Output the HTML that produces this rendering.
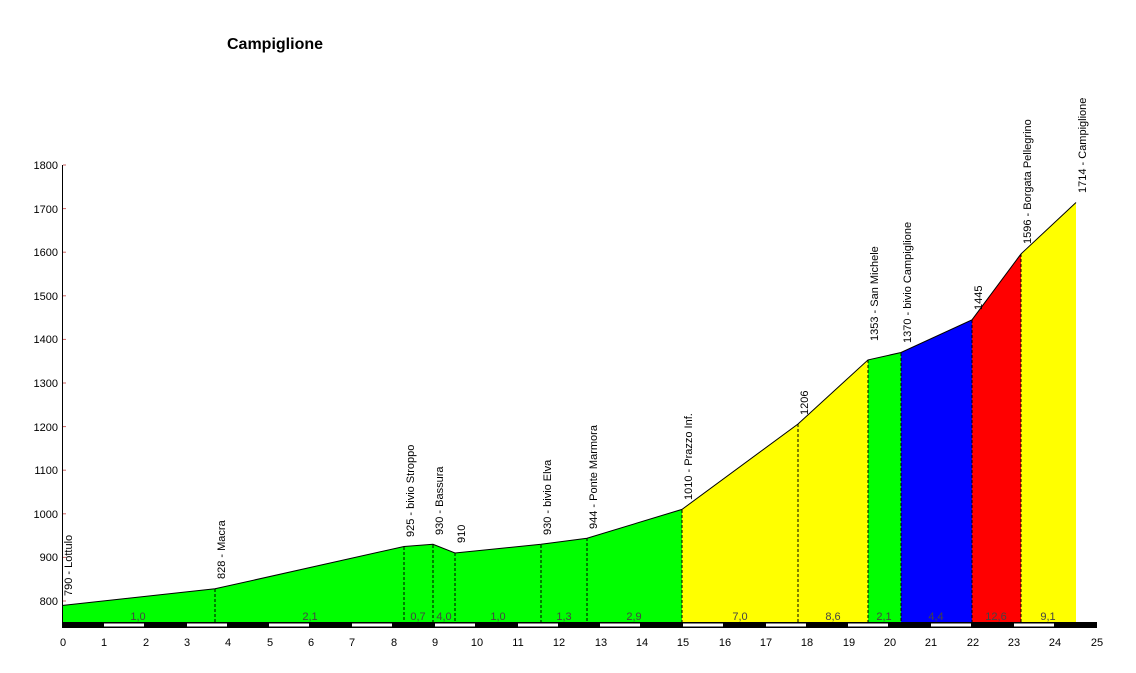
<!DOCTYPE html>
<html><head><meta charset="utf-8"><style>body{margin:0;background:#fff}svg{display:block}text{font-family:"Liberation Sans",sans-serif}</style></head><body>
<svg width="1136" height="673" viewBox="0 0 1136 673" xmlns="http://www.w3.org/2000/svg">
<text x="227" y="49" font-size="16" font-weight="bold">Campiglione</text>
<g stroke="none">
<polygon fill="#00ff00" points="63,623 63,605.4 215,588.8 404,546.5 433,544.3 455,553 541,544.3 587,538.2 682,509.4 682,623"/>
<polygon fill="#ffff00" points="682,623 682,509.4 798,424 868,359.9 868,623"/>
<polygon fill="#00ff00" points="868,623 868,359.9 901,352.5 901,623"/>
<polygon fill="#0000ff" points="901,623 901,352.5 972,319.8 972,623"/>
<polygon fill="#ff0000" points="972,623 972,319.8 1021,253.9 1021,623"/>
<polygon fill="#ffff00" points="1021,623 1021,253.9 1076,202.5 1076,623"/>
</g>
<polyline fill="none" stroke="#000" stroke-width="1" points="63,605.4 215,588.8 404,546.5 433,544.3 455,553 541,544.3 587,538.2 682,509.4 798,424 868,359.9 901,352.5 972,319.8 1021,253.9 1076,202.5"/>
<g stroke="#000" stroke-dasharray="3,2" stroke-width="1">
<line x1="215" y1="589" x2="215" y2="622"/><line x1="404" y1="547" x2="404" y2="622"/><line x1="433" y1="545" x2="433" y2="622"/><line x1="455" y1="553" x2="455" y2="622"/><line x1="541" y1="545" x2="541" y2="622"/><line x1="587" y1="538" x2="587" y2="622"/><line x1="682" y1="510" x2="682" y2="622"/><line x1="798" y1="424" x2="798" y2="622"/><line x1="868" y1="360" x2="868" y2="622"/><line x1="901" y1="353" x2="901" y2="622"/><line x1="972" y1="320" x2="972" y2="622"/><line x1="1021" y1="254" x2="1021" y2="622"/>
</g>
<g font-size="11" fill="#000">
<text transform="translate(72,596) rotate(-90)">790 - Lottulo</text>
<text transform="translate(225,579) rotate(-90)">828 - Macra</text>
<text transform="translate(414,537) rotate(-90)">925 - bivio Stroppo</text>
<text transform="translate(443,535) rotate(-90)">930 - Bassura</text>
<text transform="translate(465,543) rotate(-90)">910</text>
<text transform="translate(551,535) rotate(-90)">930 - bivio Elva</text>
<text transform="translate(597,529) rotate(-90)">944 - Ponte Marmora</text>
<text transform="translate(692,500) rotate(-90)">1010 - Prazzo Inf.</text>
<text transform="translate(808,415) rotate(-90)">1206</text>
<text transform="translate(878,341) rotate(-90)">1353 - San Michele</text>
<text transform="translate(911,343) rotate(-90)">1370 - bivio Campiglione</text>
<text transform="translate(982,310) rotate(-90)">1445</text>
<text transform="translate(1031,244) rotate(-90)">1596 - Borgata Pellegrino</text>
<text transform="translate(1086,193) rotate(-90)">1714 - Campiglione</text>
</g>
<g font-size="11" fill="#444" text-anchor="middle">
<text x="138" y="620">1,0</text><text x="310" y="620">2,1</text><text x="418" y="620">0,7</text><text x="444" y="620">4,0</text><text x="498" y="620">1,0</text><text x="564" y="620">1,3</text><text x="634" y="620">2,9</text><text x="740" y="620">7,0</text><text x="833" y="620">8,6</text><text x="884" y="620">2,1</text><text x="936" y="620">4,4</text><text x="996" y="620">12,6</text><text x="1048" y="620">9,1</text>
</g>
<rect x="62" y="622" width="1035" height="6" fill="#000"/>
<g fill="#fff">
<rect x="104" y="623.5" width="40" height="3"/><rect x="187" y="623.5" width="40" height="3"/><rect x="269" y="623.5" width="40" height="3"/><rect x="352" y="623.5" width="40" height="3"/><rect x="435" y="623.5" width="40" height="3"/><rect x="518" y="623.5" width="40" height="3"/><rect x="600" y="623.5" width="40" height="3"/><rect x="683" y="623.5" width="40" height="3"/><rect x="766" y="623.5" width="40" height="3"/><rect x="848" y="623.5" width="40" height="3"/><rect x="931" y="623.5" width="40" height="3"/><rect x="1014" y="623.5" width="40" height="3"/>
</g>
<line x1="62.5" y1="165" x2="62.5" y2="622" stroke="#000"/>
<g stroke="#c66"><line x1="63" y1="165" x2="66" y2="165"/><line x1="63" y1="208.6" x2="66" y2="208.6"/><line x1="63" y1="252.2" x2="66" y2="252.2"/><line x1="63" y1="295.8" x2="66" y2="295.8"/><line x1="63" y1="339.4" x2="66" y2="339.4"/><line x1="63" y1="383" x2="66" y2="383"/><line x1="63" y1="426.6" x2="66" y2="426.6"/><line x1="63" y1="470.2" x2="66" y2="470.2"/><line x1="63" y1="513.8" x2="66" y2="513.8"/><line x1="63" y1="557.4" x2="66" y2="557.4"/><line x1="63" y1="601" x2="66" y2="601"/></g>
<g font-size="11" text-anchor="end">
<text x="58" y="169">1800</text><text x="58" y="213">1700</text><text x="58" y="256">1600</text><text x="58" y="300">1500</text><text x="58" y="343">1400</text><text x="58" y="387">1300</text><text x="58" y="431">1200</text><text x="58" y="474">1100</text><text x="58" y="518">1000</text><text x="58" y="561">900</text><text x="58" y="605">800</text>
</g>
<g font-size="11" text-anchor="middle">
<text x="63" y="646">0</text><text x="104" y="646">1</text><text x="146" y="646">2</text><text x="187" y="646">3</text><text x="228" y="646">4</text><text x="270" y="646">5</text><text x="311" y="646">6</text><text x="352" y="646">7</text><text x="394" y="646">8</text><text x="435" y="646">9</text><text x="477" y="646">10</text><text x="518" y="646">11</text><text x="559" y="646">12</text><text x="601" y="646">13</text><text x="642" y="646">14</text><text x="683" y="646">15</text><text x="725" y="646">16</text><text x="766" y="646">17</text><text x="807" y="646">18</text><text x="849" y="646">19</text><text x="890" y="646">20</text><text x="931" y="646">21</text><text x="973" y="646">22</text><text x="1014" y="646">23</text><text x="1055" y="646">24</text><text x="1097" y="646">25</text>
</g>
</svg>
</body></html>
